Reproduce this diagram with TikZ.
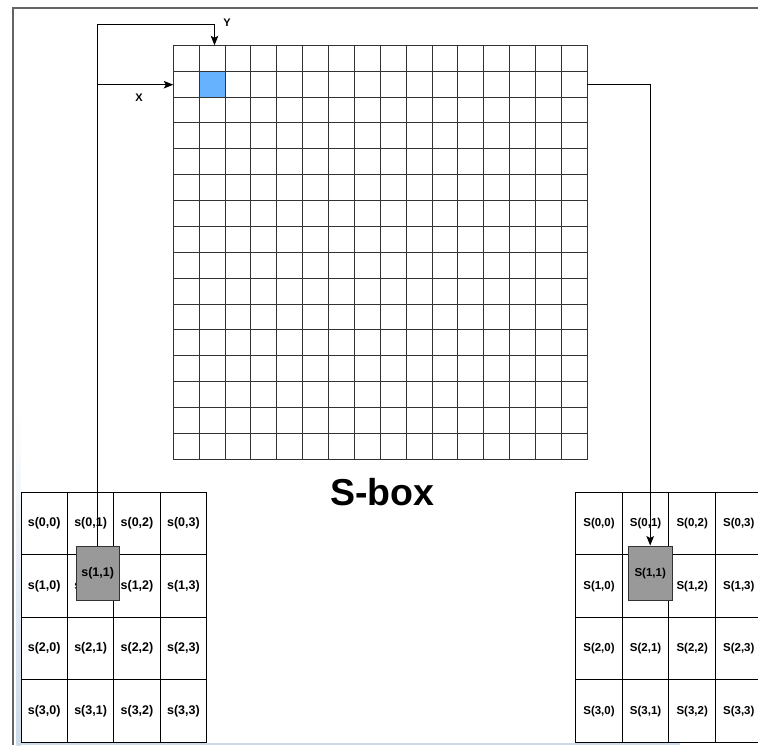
\documentclass[tikz,border=0pt]{standalone}
\usepackage{fontspec}
\setmainfont{Liberation Sans}
\usetikzlibrary{arrows.meta}
\definecolor{cellblue}{RGB}{102,178,255}
\definecolor{boxgray}{RGB}{153,153,153}
\definecolor{linegray}{RGB}{51,51,51}
\definecolor{framegray}{RGB}{100,100,100}
\definecolor{shadowblue}{RGB}{205,218,232}
\tikzset{
  gridline/.style={draw=linegray, line width=1pt},
  cellL/.style={draw=black, line width=1pt, minimum width=46.4pt, minimum height=62.5pt, inner sep=0pt,
    font=\fontsize{12.5}{14}\selectfont\bfseries},
  cellR/.style={draw=black, line width=1pt, minimum width=46.6pt, minimum height=62.5pt, inner sep=0pt,
    font=\fontsize{11.5}{13}\selectfont\bfseries},
  graybox/.style={draw=linegray, fill=boxgray, line width=1pt, minimum height=54.7pt, inner sep=0pt},
  conn/.style={draw=black, line width=1pt},
  arr/.style={-{Stealth[length=9.5pt,width=7.5pt,inset=2pt]}},
  lbl/.style={font=\fontsize{11}{13}\selectfont\bfseries, inner sep=0pt},
}
\begin{document}
\begin{tikzpicture}[x=1pt,y=-1pt]
\useasboundingbox (0,0) rectangle (758,745);
\clip (0,0) rectangle (758,745);
\fill[white] (0,0) rectangle (758,745);

% page shadow artefacts
\shade[top color=white, bottom color=shadowblue] (16.5,405) rectangle (20.5,745);
\fill[shadowblue] (21,743) rectangle (680,745);

% outer frame
\draw[framegray, line width=1.3pt] (13,745) -- (13,8) -- (758,8);

% S-box grid
\node[draw=linegray, line width=1pt, minimum size=414pt, inner sep=0pt, anchor=north west] (sbox) at (173.3,45.3) {};
\foreach \i in {1,...,15} {
  \draw[gridline] (173.3+\i*25.875,45.3) -- (173.3+\i*25.875,459.3);
  \draw[gridline] (173.3,45.3+\i*25.875) -- (587.3,45.3+\i*25.875);
}
\node[fill=cellblue, draw=linegray, line width=1pt, minimum size=25.875pt, inner sep=0pt, anchor=north west] (blue) at (199.175,71.175) {};

\node[font=\fontsize{37.5}{40}\selectfont\bfseries, anchor=base, inner sep=0pt] (sboxlbl) at (382.5,505) {S-box};

% left table
\foreach \r in {0,...,3} {
  \foreach \c in {0,...,3} {
    \node[cellL] (L-\r-\c) at (21+\c*46.4+23.2, 492.3+\r*62.5+31.25) {s(\r,\c)};
  }
}
% right table
\foreach \r in {0,...,3} {
  \foreach \c in {0,...,3} {
    \ifnum\r=1 \ifnum\c=1
      \node[cellR] (R-\r-\c) at (575.7+\c*46.6+23.3, 492.3+\r*62.5+31.25) {};
    \else
      \node[cellR] (R-\r-\c) at (575.7+\c*46.6+23.3, 492.3+\r*62.5+31.25) {S(\r,\c)};
    \fi\else
      \node[cellR] (R-\r-\c) at (575.7+\c*46.6+23.3, 492.3+\r*62.5+31.25) {S(\r,\c)};
    \fi
  }
}

% selected boxes
\node[graybox, minimum width=43.3pt, font=\fontsize{12.5}{14}\selectfont\bfseries] (gl) at (97.7,573.4) {s(1,1)};
\node[graybox, minimum width=43.7pt, font=\fontsize{11.5}{13}\selectfont\bfseries] (gr) at (650.2,573.4) {S(1,1)};

% connectors
\coordinate (ytop) at (97.7,24);
\coordinate (ytgt) at (214.5,45.3);
\coordinate (xsrc) at (97.7,84.7);
\coordinate (rsrc) at (587.3,84.7);
\coordinate (rbend) at (650.2,84.7);
\draw[conn, arr] (gl.north) -- (ytop) -| (ytgt);
\draw[conn, arr] (xsrc) -- (xsrc -| sbox.west);
\draw[conn, arr] (rsrc) -- (rbend) -- (gr.north);

\node[lbl] (xl) at (139,98) {X};
\node[lbl] (yl) at (227,22.5) {Y};
\end{tikzpicture}
\end{document}
